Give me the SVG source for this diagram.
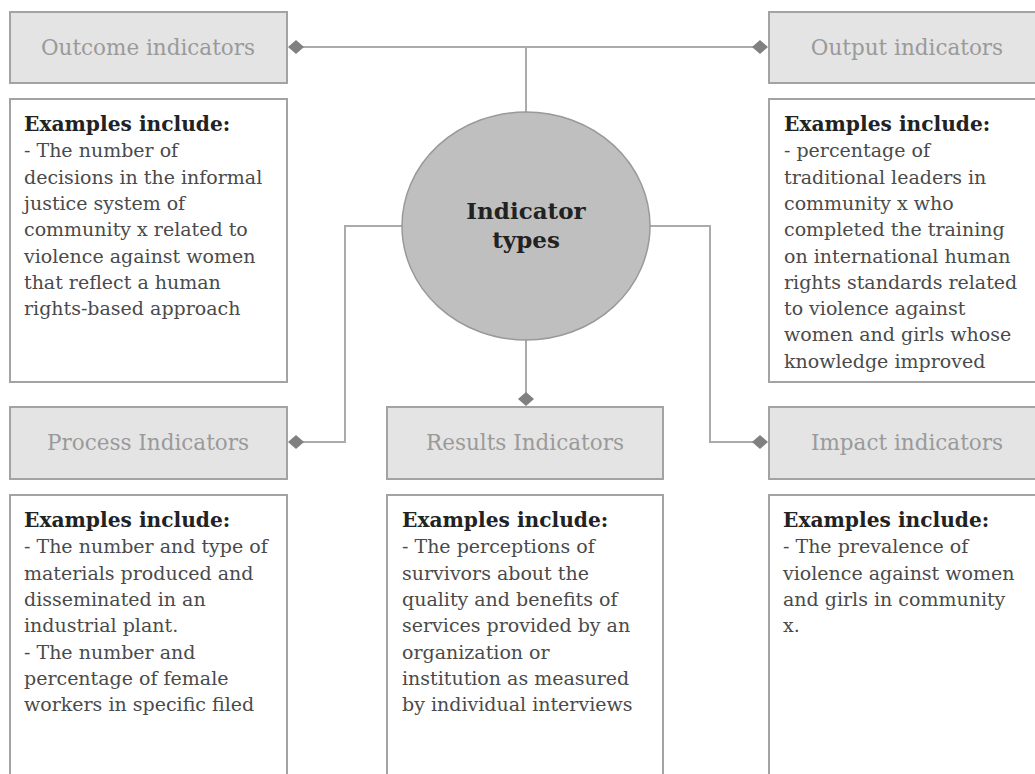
<svg xmlns="http://www.w3.org/2000/svg" width="1035" height="774" viewBox="0 0 1035 774">
<style>
.hdr{fill:#e4e4e4;stroke:#a3a3a3;stroke-width:2}
.box{fill:#ffffff;stroke:#a3a3a3;stroke-width:2}
.ht{font-family:"DejaVu Serif","Liberation Serif",serif;font-size:21.5px;fill:#9a9a9a;text-anchor:middle}
.bt{font-family:"DejaVu Serif","Liberation Serif",serif;font-size:19px;fill:#4a4a4a}
.bt .b{font-weight:bold;fill:#222222;font-size:20.2px}
.ct{font-family:"DejaVu Serif","Liberation Serif",serif;font-size:23px;font-weight:bold;fill:#222222;text-anchor:middle}
.ln{fill:none;stroke:#ababab;stroke-width:2}
.dm{fill:#808080}
</style>
<defs>
<polygon id="dia" points="-8,0 0,-7 8,0 0,7"/>
</defs>
<rect width="1035" height="774" fill="#ffffff"/>
<g id="connectors">
<path class="ln" d="M296 47 H760"/>
<path class="ln" d="M526 47 V113"/>
<path class="ln" d="M402 226 H345 V442 H296"/>
<path class="ln" d="M650 226 H710 V442 H760"/>
<path class="ln" d="M526 339 V399"/>
<use href="#dia" class="dm" x="296" y="47"/>
<use href="#dia" class="dm" x="760" y="47"/>
<use href="#dia" class="dm" x="296" y="442"/>
<use href="#dia" class="dm" x="760" y="442"/>
<use href="#dia" class="dm" x="526" y="399"/>
</g>
<g id="center">
<ellipse cx="526" cy="226" rx="124" ry="114" fill="#bfbfbf" stroke="#999999" stroke-width="1.5"/>
<text class="ct" x="526" y="219">Indicator</text>
<text class="ct" x="526" y="248">types</text>
</g>
<g id="outcome">
<rect class="hdr" x="10" y="12" width="277" height="71"/>
<text class="ht" x="148" y="55">Outcome indicators</text>
<rect class="box" x="10" y="99" width="277" height="283"/>
<text class="bt" x="24">
<tspan class="b" x="24" y="131">Examples include:</tspan>
<tspan x="24" y="157.3">- The number of</tspan>
<tspan x="24" y="183.6">decisions in the informal</tspan>
<tspan x="24" y="209.9">justice system of</tspan>
<tspan x="24" y="236.2">community x related to</tspan>
<tspan x="24" y="262.5">violence against women</tspan>
<tspan x="24" y="288.8">that reflect a human</tspan>
<tspan x="24" y="315.1">rights-based approach</tspan>
</text>
</g>
<g id="output">
<rect class="hdr" x="769" y="12" width="277" height="71"/>
<text class="ht" x="907" y="55">Output indicators</text>
<rect class="box" x="769" y="99" width="277" height="283"/>
<text class="bt" x="784">
<tspan class="b" x="784" y="131">Examples include:</tspan>
<tspan x="784" y="157.3">- percentage of</tspan>
<tspan x="784" y="183.6">traditional leaders in</tspan>
<tspan x="784" y="209.9">community x who</tspan>
<tspan x="784" y="236.2">completed the training</tspan>
<tspan x="784" y="262.5">on international human</tspan>
<tspan x="784" y="288.8">rights standards related</tspan>
<tspan x="784" y="315.1">to violence against</tspan>
<tspan x="784" y="341.4">women and girls whose</tspan>
<tspan x="784" y="367.7">knowledge improved</tspan>
</text>
</g>
<g id="process">
<rect class="hdr" x="10" y="407" width="277" height="72"/>
<text class="ht" x="148" y="450">Process Indicators</text>
<rect class="box" x="10" y="495" width="277" height="300"/>
<text class="bt" x="24">
<tspan class="b" x="24" y="527">Examples include:</tspan>
<tspan x="24" y="553.3">- The number and type of</tspan>
<tspan x="24" y="579.6">materials produced and</tspan>
<tspan x="24" y="605.9">disseminated in an</tspan>
<tspan x="24" y="632.2">industrial plant.</tspan>
<tspan x="24" y="658.5">- The number and</tspan>
<tspan x="24" y="684.8">percentage of female</tspan>
<tspan x="24" y="711.1">workers in specific filed</tspan>
</text>
</g>
<g id="results">
<rect class="hdr" x="387" y="407" width="276" height="72"/>
<text class="ht" x="525" y="450">Results Indicators</text>
<rect class="box" x="387" y="495" width="276" height="300"/>
<text class="bt" x="402">
<tspan class="b" x="402" y="527">Examples include:</tspan>
<tspan x="402" y="553.3">- The perceptions of</tspan>
<tspan x="402" y="579.6">survivors about the</tspan>
<tspan x="402" y="605.9">quality and benefits of</tspan>
<tspan x="402" y="632.2">services provided by an</tspan>
<tspan x="402" y="658.5">organization or</tspan>
<tspan x="402" y="684.8">institution as measured</tspan>
<tspan x="402" y="711.1">by individual interviews</tspan>
</text>
</g>
<g id="impact">
<rect class="hdr" x="769" y="407" width="277" height="72"/>
<text class="ht" x="907" y="450">Impact indicators</text>
<rect class="box" x="769" y="495" width="277" height="300"/>
<text class="bt" x="783">
<tspan class="b" x="783" y="527">Examples include:</tspan>
<tspan x="783" y="553.3">- The prevalence of</tspan>
<tspan x="783" y="579.6">violence against women</tspan>
<tspan x="783" y="605.9">and girls in community</tspan>
<tspan x="783" y="632.2">x.</tspan>
</text>
</g>
</svg>
